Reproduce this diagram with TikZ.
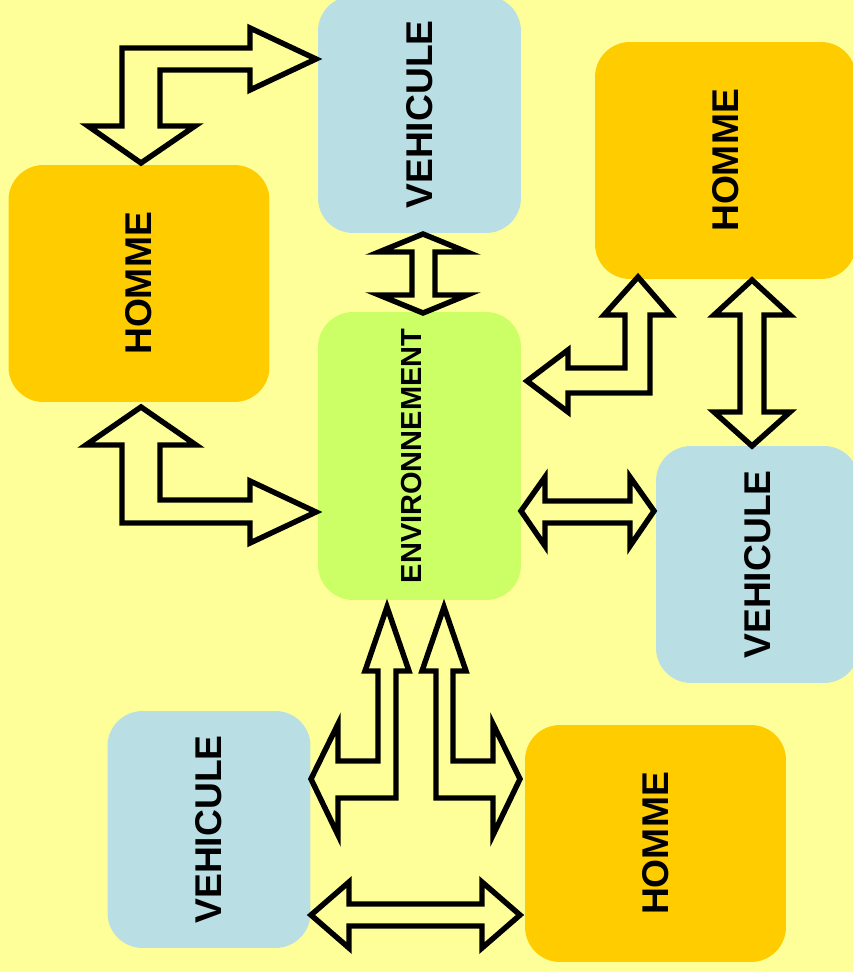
\documentclass[tikz,border=0pt]{standalone}
\usepackage{fontspec}
\setmainfont{Liberation Sans}
\definecolor{fondjaune}{HTML}{FFFF99}
\definecolor{orangeh}{HTML}{FFCC00}
\definecolor{bleuv}{HTML}{B9DFE4}
\definecolor{vertenv}{HTML}{CCFF66}
\tikzset{
    bloc/.style={rounded corners=0.7cm, inner sep=0pt, rotate=90,
        font=\bfseries\fontsize{21.2}{24}\selectfont},
    homme/.style={bloc, fill=orangeh, minimum width=4.74cm, minimum height=5.22cm},
    vehicule/.style={bloc, fill=bleuv, minimum width=4.74cm, minimum height=4.06cm},
    envbox/.style={bloc, fill=vertenv, minimum width=5.76cm, minimum height=4.06cm,
        font=\bfseries\fontsize{16.5}{18}\selectfont},
    grossefleche/.style={draw=black, fill=fondjaune, line width=3.1pt, line join=miter}
}
\begin{document}
\begin{tikzpicture}[x=0.02cm,y=-0.02cm]
        \useasboundingbox (0,0) rectangle (853,972);
        \clip (0,0) rectangle (853,972);
        \fill[fondjaune] (0,0) rectangle (853,972);
        %% boxes
        \node[vehicule] (vehhaut) at (419.5,114.5) {VEHICULE};
        \node[homme]    (hommegauche) at (139,283.5) {HOMME};
        \node[envbox]   (env) at (419.5,456) {\raisebox{4.5pt}[\height][\depth]{ENVIRONNEMENT}};
        \node[homme]    (hommedroite) at (725.5,160.5) {HOMME};
        \node[vehicule] (vehdroite) at (757.5,564.5) {VEHICULE};
        \node[vehicule] (vehbas) at (209,829.5) {VEHICULE};
        \node[homme]    (hommebas) at (655.5,843.5) {HOMME};
        %% homme gauche <-> vehicule haut
        \draw[grossefleche] (122,48) -- (250,48) -- (250,28) -- (316,59) -- (250,90) -- (250,70)
            -- (160,70) -- (160,126) -- (195,126) -- (141,163) -- (88,126) -- (122,126) -- cycle;
        %% homme gauche <-> environnement
        \draw[grossefleche] (141,407) -- (196,445) -- (160,445) -- (160,500) -- (250,500) -- (250,481)
            -- (316,512) -- (250,543) -- (250,523) -- (122,523) -- (122,445) -- (86,445) -- cycle;
        %% vehicule haut <-> environnement
        \draw[grossefleche] (423,234) -- (467,252) -- (435,252) -- (435,295) -- (467,295) -- (423,313)
            -- (379,295) -- (412,295) -- (412,252) -- (379,252) -- cycle;
        %% homme droite <-> environnement
        \draw[grossefleche] (638,277) -- (671,315) -- (650,315) -- (650,393) -- (568,393) -- (568,412)
            -- (527,381) -- (568,350) -- (568,368) -- (625,368) -- (625,315) -- (604,315) -- cycle;
        %% homme droite <-> vehicule droite
        \draw[grossefleche] (752,280) -- (790,315) -- (764,315) -- (764,412) -- (790,412) -- (752,446)
            -- (714,412) -- (740,412) -- (740,315) -- (714,315) -- cycle;
        %% environnement <-> vehicule droite
        \draw[grossefleche] (521,511) -- (545,477) -- (545,501) -- (630,501) -- (630,477) -- (654,511)
            -- (630,546) -- (630,523) -- (545,523) -- (545,546) -- cycle;
        %% environnement <-> vehicule bas
        \draw[grossefleche] (387,607) -- (409,671) -- (396,671) -- (396,798) -- (338,798) -- (338,835)
            -- (311,779) -- (338,724) -- (338,761) -- (378,761) -- (378,671) -- (365,671) -- cycle;
        %% environnement <-> homme bas
        \draw[grossefleche] (444,607) -- (466,671) -- (453,671) -- (453,761) -- (493,761) -- (493,724)
            -- (520,779) -- (493,835) -- (493,798) -- (436,798) -- (436,671) -- (422,671) -- cycle;
        %% vehicule bas <-> homme bas
        \draw[grossefleche] (311,915) -- (349,882) -- (349,904) -- (482,904) -- (482,882) -- (520,915)
            -- (482,948) -- (482,926) -- (349,926) -- (349,948) -- cycle;
    \end{tikzpicture}
\end{document}
